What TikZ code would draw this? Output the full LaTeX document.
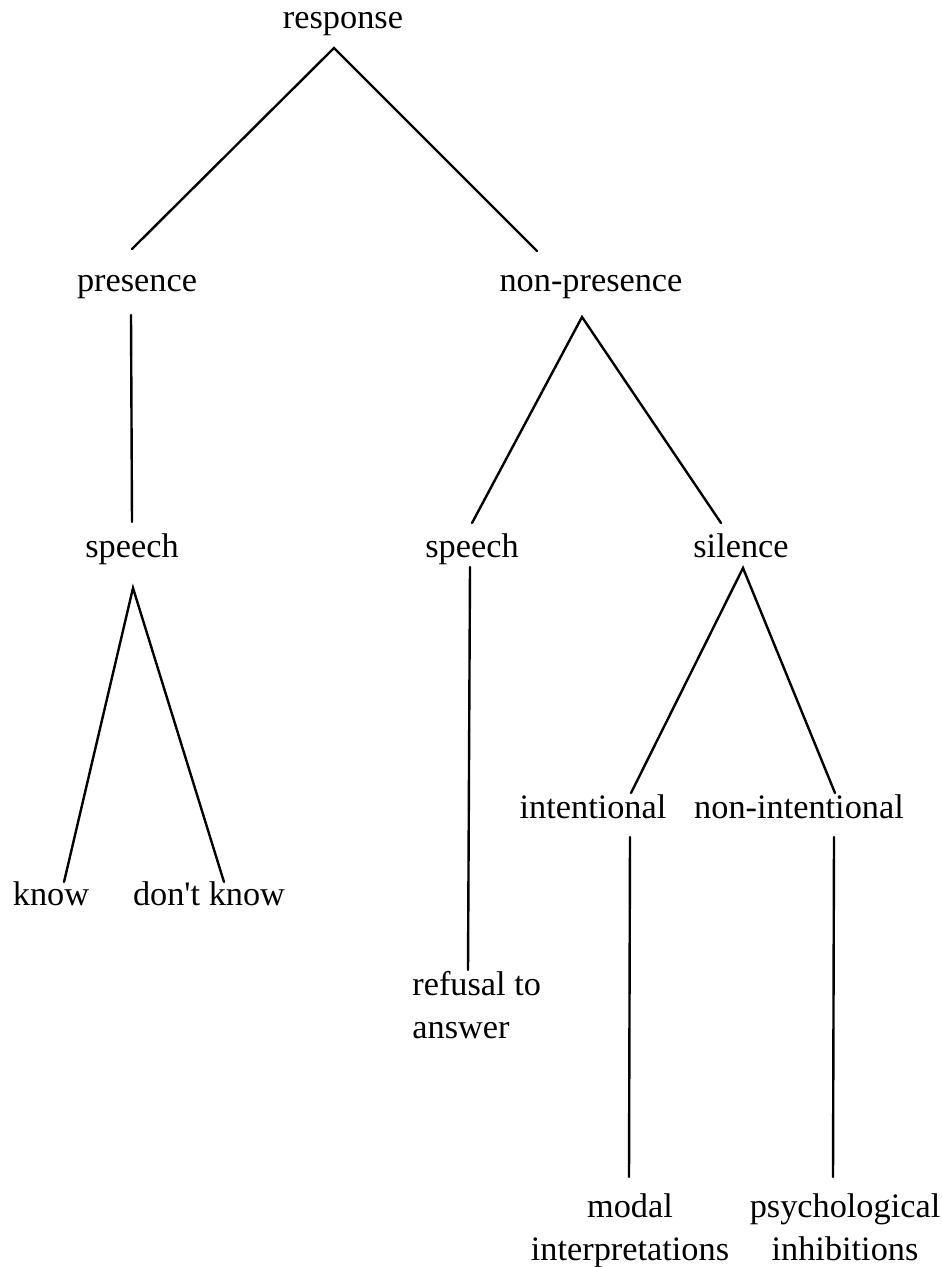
\documentclass[tikz,border=0pt]{standalone}
\usepackage{fontspec}
\setmainfont{Liberation Serif}[Ligatures=TeXOff]
\usepackage{tikz}
\tikzset{
  lbl/.style={anchor=base, inner sep=0pt, font=\fontsize{17.15}{21.5}\selectfont},
  branch/.style={line width=1.2pt, line cap=round}
}

\begin{document}
\begin{tikzpicture}[x=0.5pt, y=-0.5pt]
  \useasboundingbox (0,0) rectangle (941,1267);
  \node[lbl] (response) at (343,29) {response};
  \node[lbl] (presence) at (137,292) {presence};
  \node[lbl] (nonpres) at (591,292) {non-presence};
  \node[lbl] (speechL) at (132,557) {speech};
  \node[lbl] (speechM) at (472,557) {speech};
  \node[lbl] (silence) at (741,557) {silence};
  \node[lbl] (intent) at (593,818) {intentional};
  \node[lbl] (nonint) at (799,818) {non-intentional};
  \node[lbl] (know) at (51,905) {know};
  \node[lbl] (dontknow) at (209,905) {don't know};
  \node[lbl, anchor=base west, align=left] (refusal) at (412,1038) {refusal to\\answer};
  \node[lbl, align=center] (modal) at (630,1260) {modal\\interpretations};
  \node[lbl, align=center] (psych) at (845,1260) {psychological\\inhibitions};

  \coordinate (response-s) at (334,48);
  \coordinate (presence-n) at (132,249);
  \coordinate (nonpres-n) at (537,251);
  \coordinate (presence-s) at (131,315);
  \coordinate (speechL-n) at (132,522);
  \coordinate (nonpres-s) at (582,317);
  \coordinate (speechM-n) at (472,523);
  \coordinate (silence-n) at (721,523);
  \coordinate (speechL-s) at (133,588);
  \coordinate (know-n) at (64,882);
  \coordinate (dontknow-n) at (224,882);
  \coordinate (speechM-s) at (470,567);
  \coordinate (refusal-n) at (468,970);
  \coordinate (silence-s) at (743,568);
  \coordinate (intent-n) at (631,793);
  \coordinate (nonint-n) at (835,793);
  \coordinate (intent-s) at (630,837);
  \coordinate (modal-n) at (629,1177);
  \coordinate (nonint-s) at (834,837);
  \coordinate (psych-n) at (833,1177);

  \draw[branch] (presence-n) -- (response-s) -- (nonpres-n);
  \draw[branch] (presence-s) -- (speechL-n);
  \draw[branch] (speechM-n) -- (nonpres-s) -- (silence-n);
  \draw[branch] (know-n) -- (speechL-s) -- (dontknow-n);
  \draw[branch] (speechM-s) -- (refusal-n);
  \draw[branch] (intent-n) -- (silence-s) -- (nonint-n);
  \draw[branch] (intent-s) -- (modal-n);
  \draw[branch] (nonint-s) -- (psych-n);
\end{tikzpicture}
\end{document}
